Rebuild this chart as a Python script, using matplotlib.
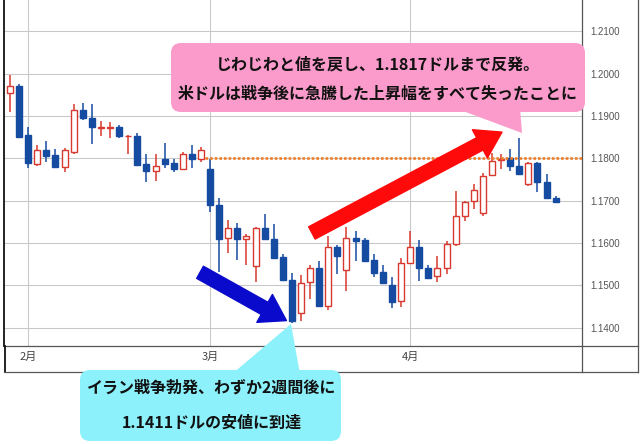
#!/usr/bin/env python
#######################################################################

import matplotlib
matplotlib.use('Agg')
import matplotlib.pyplot as plt
from matplotlib.lines import Line2D
from matplotlib.patches import FancyBboxPatch, Polygon

#######################################################################
# Data (daily candles, late Jan - late Apr)

opens = [1.1955, 1.1972, 1.1855, 1.1786, 1.1819, 1.1807, 1.1780, 1.1814, 1.1915, 1.1895,
         1.1872, 1.1871, 1.1874, 1.1852, 1.1853, 1.1786, 1.1771, 1.1798, 1.1790, 1.1775,
         1.1811, 1.1798, 1.1774, 1.1690, 1.1611, 1.1635, 1.1609, 1.1546, 1.1635, 1.1610,
         1.1566, 1.1514, 1.1436, 1.1507, 1.1540, 1.1451, 1.1590, 1.1537, 1.1611, 1.1607,
         1.1560, 1.1532, 1.1502, 1.1464, 1.1554, 1.1590, 1.1540, 1.1522, 1.1542, 1.1597,
         1.1663, 1.1700, 1.1671, 1.1760, 1.1797, 1.1802, 1.1783, 1.1740, 1.1788, 1.1745,
         1.1706]
highs = [1.1998, 1.1976, 1.1875, 1.1831, 1.1841, 1.1823, 1.1825, 1.1929, 1.1930, 1.1929,
         1.1889, 1.1887, 1.1879, 1.1855, 1.1860, 1.1810, 1.1810, 1.1836, 1.1798, 1.1816,
         1.1831, 1.1828, 1.1799, 1.1706, 1.1655, 1.1647, 1.1621, 1.1637, 1.1669, 1.1645,
         1.1575, 1.1530, 1.1525, 1.1548, 1.1557, 1.1617, 1.1595, 1.1639, 1.1629, 1.1611,
         1.1574, 1.1549, 1.1521, 1.1564, 1.1629, 1.1607, 1.1549, 1.1570, 1.1605, 1.1722,
         1.1700, 1.1740, 1.1766, 1.1812, 1.1811, 1.1823, 1.1849, 1.1791, 1.1791, 1.1764,
         1.1712]
lows = [1.1910, 1.1850, 1.1778, 1.1782, 1.1791, 1.1777, 1.1769, 1.1811, 1.1891, 1.1833,
        1.1853, 1.1848, 1.1849, 1.1810, 1.1784, 1.1744, 1.1746, 1.1778, 1.1767, 1.1774,
        1.1778, 1.1792, 1.1674, 1.1532, 1.1577, 1.1561, 1.1549, 1.1508, 1.1608, 1.1562,
        1.1511, 1.1411, 1.1415, 1.1468, 1.1451, 1.1443, 1.1528, 1.1488, 1.1558, 1.1555,
        1.1521, 1.1504, 1.1446, 1.1448, 1.1553, 1.1510, 1.1516, 1.1508, 1.1528, 1.1593,
        1.1653, 1.1680, 1.1665, 1.1760, 1.1776, 1.1770, 1.1762, 1.1734, 1.1720, 1.1706,
        1.1694]
closes = [1.1971, 1.1851, 1.1790, 1.1819, 1.1805, 1.1779, 1.1819, 1.1915, 1.1895, 1.1873,
          1.1874, 1.1873, 1.1852, 1.1854, 1.1784, 1.1770, 1.1782, 1.1786, 1.1775, 1.1810,
          1.1798, 1.1819, 1.1690, 1.1610, 1.1635, 1.1609, 1.1617, 1.1635, 1.1609, 1.1565,
          1.1512, 1.1417, 1.1505, 1.1540, 1.1451, 1.1590, 1.1570, 1.1611, 1.1605, 1.1558,
          1.1529, 1.1506, 1.1460, 1.1554, 1.1591, 1.1540, 1.1518, 1.1542, 1.1597, 1.1663,
          1.1698, 1.1725, 1.1758, 1.1794, 1.1799, 1.1782, 1.1764, 1.1788, 1.1745, 1.1706,
          1.1698]

month_pos = [2, 22, 44]                 # first trading day of each month
month_labels = ['2月', '3月', '4月']
y_ticks = [1.14, 1.15, 1.16, 1.17, 1.18, 1.19, 1.20, 1.21]
ref_level = 1.18                        # dotted reference line

note_top = ['じわじわと値を戻し、1.1817ドルまで反発。',
            '米ドルは戦争後に急騰した上昇幅をすべて失ったことに']
note_bottom = ['イラン戦争勃発、わずか2週間後に',
               '1.1411ドルの安値に到達']

#######################################################################
# Figure and axes

W, H = 640, 444
fig = plt.figure(figsize=(W / 100, H / 100), dpi=100)
ax = fig.add_axes([4 / W, (H - 346) / H, (582 - 4) / W, 346 / H])

UP = '#D8392E'
DOWN = '#154BA0'

# candles
xs = list(range(len(opens)))
for i in xs:
    o, h, l, c = opens[i], highs[i], lows[i], closes[i]
    up = c >= o
    col = UP if up else DOWN
    ax.vlines(i, l, h, color=col, lw=1.1, zorder=2)
    bottom = min(o, c)
    height = max(abs(c - o), 0.00015)
    ax.bar(i, height, bottom=bottom, width=0.66,
           facecolor='white' if up else DOWN, edgecolor=col, lw=1.0, zorder=3)

# dotted reference line
ax.hlines(ref_level, 21.4, 63, color='#F07D28', lw=1.9,
          linestyle=(0, (1, 0.75)), zorder=4)

# arrows
ax.annotate('', xy=(30.4, 1.1417), xytext=(20.9, 1.1531),
            arrowprops=dict(arrowstyle='simple,head_length=1.8,head_width=2.3,tail_width=1.0',
                            color='#0A0ACC', shrinkA=0, shrinkB=0, mutation_scale=10),
            zorder=5)
ax.annotate('', xy=(54.1, 1.1862), xytext=(33.2, 1.1624),
            arrowprops=dict(arrowstyle='simple,head_length=1.8,head_width=2.3,tail_width=1.0',
                            color='#FF0A0A', shrinkA=0, shrinkB=0, mutation_scale=10),
            zorder=5)

# axes styling
ax.set_xlim(-0.66, 62.9)
ax.set_ylim(1.1357, 1.2174)
ax.set_yticks(y_ticks)
ax.set_yticklabels([f'{v:.4f}' for v in y_ticks])
ax.yaxis.tick_right()
ax.tick_params(axis='y', length=0, pad=5.8, labelsize=7, labelcolor='#555555')
for lab in ax.get_yticklabels():
    lab.set_family('Liberation Sans')
    lab.set_horizontalalignment('left')
ax.set_xticks(month_pos)
ax.set_xticklabels(month_labels, family=['Noto Sans CJK JP', 'DejaVu Sans'])
ax.tick_params(axis='x', length=0, pad=4, labelsize=8, labelcolor='#444444')
ax.grid(True, color='#C8C8C8', lw=0.75, zorder=0)
ax.set_axisbelow(True)
ax.spines['top'].set_visible(False)
ax.spines['left'].set_color('#111111')
ax.spines['left'].set_linewidth(1.3)
ax.spines['right'].set_color('#555555')
ax.spines['bottom'].set_color('#555555')
ax.spines['right'].set_linewidth(0.9)
ax.spines['bottom'].set_linewidth(0.9)

# outer frame (pixel coordinates)
def px_line(xp, yp, color='#555555', lw=0.9):
    fig.add_artist(Line2D([x / W for x in xp], [1 - y / H for y in yp],
                          color=color, lw=lw, transform=fig.transFigure))

px_line([4.5, 4.5], [346, 372], color='#111111', lw=1.3)
px_line([582, 582], [346, 372])
px_line([638, 638], [0, 372])
px_line([582, 638], [346, 346])
px_line([4, 638], [372, 372])

#######################################################################
# Callouts (overlay in pixel coordinates)

ov = fig.add_axes([0, 0, 1, 1], zorder=10)
ov.set_xlim(0, W)
ov.set_ylim(H, 0)
ov.axis('off')
ov.patch.set_alpha(0)

PINK = '#FB9BCB'
CYAN = '#8CF1FA'
jp = ['Noto Sans CJK JP', 'DejaVu Sans']

ov.add_patch(Polygon([(455, 108), (520, 108), (522, 133)], closed=True,
                     facecolor=PINK, edgecolor='none'))
ov.add_patch(FancyBboxPatch((171, 43), 414, 69,
                            boxstyle='round,pad=0,rounding_size=10',
                            facecolor=PINK, edgecolor='none'))
ov.text(378, 64, note_top[0], ha='center', va='center', fontsize=11.5,
        fontweight='bold', family=jp, color='#111111')
ov.text(378, 94, note_top[1], ha='center', va='center', fontsize=11.5,
        fontweight='bold', family=jp, color='#111111')

ov.add_patch(Polygon([(232, 374), (300, 374), (291, 324)], closed=True,
                     facecolor=CYAN, edgecolor='none'))
ov.add_patch(FancyBboxPatch((80, 370), 261, 71,
                            boxstyle='round,pad=0,rounding_size=10',
                            facecolor=CYAN, edgecolor='none'))
ov.text(212, 388, note_bottom[0], ha='center', va='center', fontsize=11.5,
        fontweight='bold', family=jp, color='#111111')
ov.text(212, 423, note_bottom[1], ha='center', va='center', fontsize=11.5,
        fontweight='bold', family=jp, color='#111111')

fig.savefig('out.png', dpi=100)
